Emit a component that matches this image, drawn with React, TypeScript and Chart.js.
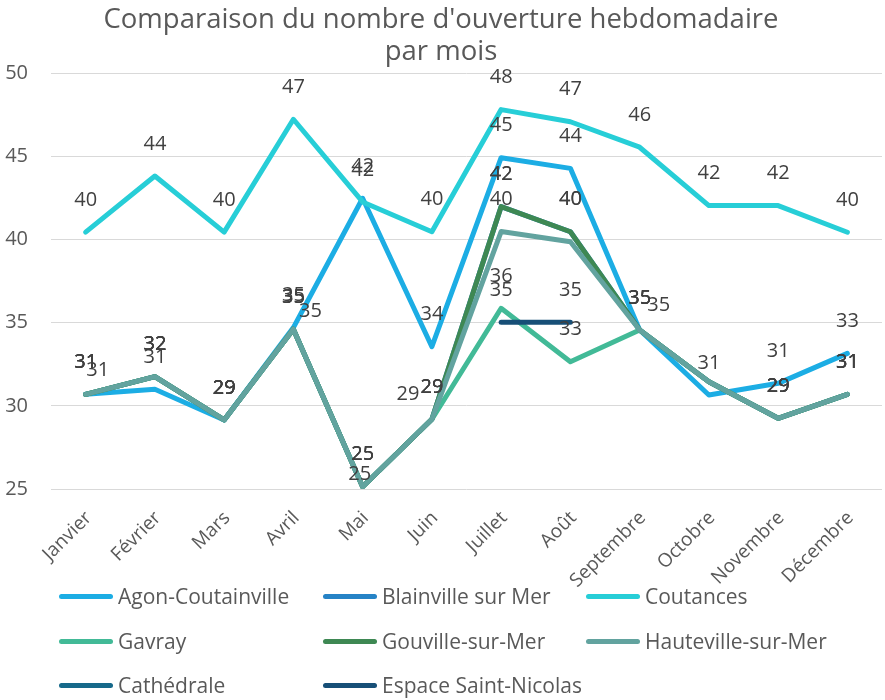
import React, { useEffect, useRef } from "react";
import { Chart, registerables } from "chart.js";

Chart.register(...registerables);

const months = ["Janvier", "Février", "Mars", "Avril", "Mai", "Juin", "Juillet", "Août", "Septembre", "Octobre", "Novembre", "Décembre"];
const titleLines = ["Comparaison du nombre d'ouverture hebdomadaire", "par mois"];

const seriesNames = ["Agon-Coutainville", "Blainville sur Mer", "Coutances", "Gavray", "Gouville-sur-Mer", "Hauteville-sur-Mer", "Cathédrale", "Espace Saint-Nicolas"];

const agon = [30.69, 30.99, 29.15, 34.7, 42.47, 33.55, 44.91, 44.27, 34.56, 30.65, 31.35, 33.15];
const blainville = [30.69, 31.75, 29.15, 34.6, 25.14, 29.19, 41.97, 40.46, 34.56, 31.45, 29.25, 30.69];
const coutances = [40.44, 43.81, 40.44, 47.22, 42.25, 40.46, 47.8, 47.07, 45.54, 42.03, 42.03, 40.43];
const gavray = [30.69, 31.75, 29.15, 34.6, 25.14, 29.19, 35.86, 32.65, 34.56, 31.45, 29.25, 30.69];
const gouville = [30.69, 31.75, 29.15, 34.6, 25.14, 29.19, 41.97, 40.46, 34.56, 31.45, 29.25, 30.69];
const hauteville = [30.69, 31.75, 29.15, 34.6, 25.14, 29.19, 40.47, 39.86, 34.56, 31.45, 29.25, 30.69];
const cathedrale = [null, null, null, null, null, null, null, null, null, null, null, null];
const saintNicolas = [null, null, null, null, null, null, 35.02, 35.02, null, null, null, null];

const seriesValues = [agon, blainville, coutances, gavray, gouville, hauteville, cathedrale, saintNicolas];
const seriesColors = ["#1CADE4", "#2683C6", "#27CED7", "#42BA97", "#3E8853", "#62A39F", "#16698A", "#174F77"];

const yMin = 25;
const yMax = 50;
const yStep = 5;

// data-label styling: moved labels (pixel nudges) and labels removed in the original
const labelNudges: Record<string, Record<number, [number, number]>> = {
  Gavray: { 0: [12, 8], 3: [17, 14], 4: [-3, 20], 5: [-24, 7], 8: [19, 7] },
};
const labelSkips: Record<string, number[]> = {
  "Blainville sur Mer": [9],
  Gavray: [9],
  "Gouville-sur-Mer": [9],
  "Hauteville-sur-Mer": [7, 9],
};

const FONT = "'Open Sans', sans-serif";

const dataLabelPlugin = {
  id: "dataLabels",
  afterDatasetsDraw(chart: any) {
    const ctx = chart.ctx;
    ctx.save();
    ctx.font = `20px ${FONT}`;
    ctx.fillStyle = "#404040";
    ctx.textAlign = "center";
    ctx.textBaseline = "middle";
    chart.data.datasets.forEach((ds: any, di: number) => {
      const meta = chart.getDatasetMeta(di);
      const nudges = labelNudges[ds.label] || {};
      const skips = labelSkips[ds.label] || [];
      meta.data.forEach((pt: any, i: number) => {
        const v = ds.data[i];
        if (v === null || v === undefined) return;
        if (skips.includes(i)) return;
        const n = nudges[i] || [0, 0];
        ctx.fillText(String(Math.round(v)), pt.x + n[0], pt.y - 32 + n[1]);
      });
    });
    ctx.restore();
  },
};

// category labels rotated 45 degrees, end of text at the tick
const xLabelPlugin = {
  id: "xLabels",
  afterDraw(chart: any) {
    const ctx = chart.ctx;
    const scale = chart.scales.x;
    const labels = chart.data.labels as string[];
    ctx.save();
    ctx.font = `19px ${FONT}`;
    ctx.fillStyle = "#595959";
    ctx.textAlign = "right";
    ctx.textBaseline = "middle";
    labels.forEach((lab, i) => {
      const x = scale.getPixelForTick(i);
      ctx.save();
      ctx.translate(x + 3, chart.chartArea.bottom + 26);
      ctx.rotate(-Math.PI / 4);
      ctx.fillText(lab, 0, 0);
      ctx.restore();
    });
    ctx.restore();
  },
};

const legendCols = [59, 323, 586];
const legendRows = [596, 641, 685];

export default function App() {
  const ref = useRef<HTMLCanvasElement | null>(null);

  useEffect(() => {
    if (!ref.current) return;
    const n = seriesNames.length;
    const chart = new Chart(ref.current, {
      type: "line",
      data: {
        labels: months,
        datasets: seriesNames.map((name, i) => ({
          label: name,
          data: seriesValues[i],
          order: n - i,
          borderColor: seriesColors[i],
          backgroundColor: seriesColors[i],
          borderWidth: 5,
          borderCapStyle: "round",
          borderJoinStyle: "round",
          pointRadius: 0,
          pointHoverRadius: 0,
          tension: 0,
          spanGaps: false,
          fill: false,
        })),
      },
      options: {
        responsive: false,
        animation: false,
        layout: { padding: { left: 0, right: 3, top: 0, bottom: 0 } },
        plugins: {
          legend: { display: false },
          tooltip: { enabled: false },
          title: {
            display: true,
            text: titleLines,
            color: "#595959",
            font: { family: FONT, size: 27.5, weight: "normal", lineHeight: "32px" },
            padding: { top: 4, bottom: 5 },
          },
        },
        scales: {
          x: {
            offset: true,
            grid: { display: false, drawTicks: false },
            border: { display: false },
            ticks: { display: false, autoSkip: false },
            afterFit(scale: any) {
              scale.height = 211;
            },
          },
          y: {
            min: yMin,
            max: yMax,
            grid: { color: "#D9D9D9", lineWidth: 1, drawTicks: false },
            border: { display: false },
            ticks: {
              stepSize: yStep,
              color: "#595959",
              font: { family: FONT, size: 20 },
              padding: 23,
            },
            afterFit(scale: any) {
              scale.width = 51;
            },
          },
        },
      },
      plugins: [dataLabelPlugin, xLabelPlugin],
    });
    return () => chart.destroy();
  }, []);

  return (
    <div style={{ position: "absolute", left: 0, top: 0, width: 885, height: 700, background: "#fff", fontFamily: FONT }}>
      <canvas ref={ref} width={885} height={700} style={{ display: "block" }} />
      {seriesNames.map((name, i) => {
        const col = i % 3;
        const row = Math.floor(i / 3);
        return (
          <div
            key={name}
            style={{
              position: "absolute",
              left: legendCols[col],
              top: legendRows[row] - 15,
              height: 30,
              display: "flex",
              alignItems: "center",
              whiteSpace: "nowrap",
            }}
          >
            <span style={{ display: "inline-block", width: 54, height: 5, borderRadius: 3, background: seriesColors[i], marginRight: 5 }} />
            <span style={{ fontSize: 21, color: "#595959", lineHeight: "30px" }}>{name}</span>
          </div>
        );
      })}
    </div>
  );
}
